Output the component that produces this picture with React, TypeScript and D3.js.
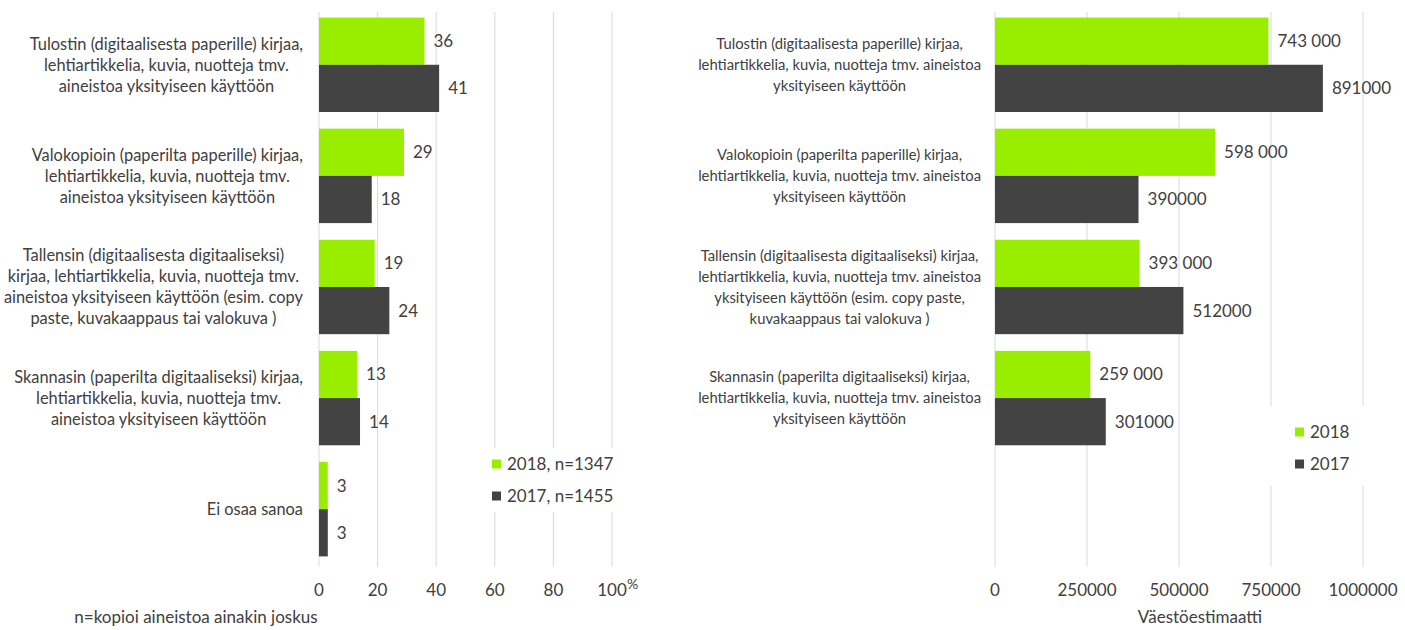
import React, { useRef, useEffect } from 'react';
import * as d3 from 'd3';

// left chart: share of respondents (%)
const leftCategories = [
  ['Tulostin (digitaalisesta paperille) kirjaa,', 'lehtiartikkelia, kuvia, nuotteja tmv.', 'aineistoa yksityiseen käyttöön'],
  ['Valokopioin (paperilta paperille) kirjaa,', 'lehtiartikkelia, kuvia, nuotteja tmv.', 'aineistoa yksityiseen käyttöön'],
  ['Tallensin (digitaalisesta digitaaliseksi)', 'kirjaa, lehtiartikkelia, kuvia, nuotteja tmv.', 'aineistoa yksityiseen käyttöön (esim. copy', 'paste, kuvakaappaus tai valokuva )'],
  ['Skannasin (paperilta digitaaliseksi) kirjaa,', 'lehtiartikkelia, kuvia, nuotteja tmv.', 'aineistoa yksityiseen käyttöön'],
  ['Ei osaa sanoa'],
];
const left2018 = [36, 29, 19, 13, 3];
const left2017 = [41, 18, 24, 14, 3];
const leftTicks = [0, 20, 40, 60, 80, 100];
const leftLegend = ['2018, n=1347', '2017, n=1455'];
const leftTitle = 'n=kopioi aineistoa ainakin joskus';

// right chart: population estimate
const rightCategories = [
  ['Tulostin (digitaalisesta paperille) kirjaa,', 'lehtiartikkelia, kuvia, nuotteja tmv. aineistoa', 'yksityiseen käyttöön'],
  ['Valokopioin (paperilta paperille) kirjaa,', 'lehtiartikkelia, kuvia, nuotteja tmv. aineistoa', 'yksityiseen käyttöön'],
  ['Tallensin (digitaalisesta digitaaliseksi) kirjaa,', 'lehtiartikkelia, kuvia, nuotteja tmv. aineistoa', 'yksityiseen käyttöön (esim. copy paste,', 'kuvakaappaus tai valokuva )'],
  ['Skannasin (paperilta digitaaliseksi) kirjaa,', 'lehtiartikkelia, kuvia, nuotteja tmv. aineistoa', 'yksityiseen käyttöön'],
];
const right2018 = [743000, 598000, 393000, 259000];
const right2017 = [891000, 390000, 512000, 301000];
const rightTicks = [0, 250000, 500000, 750000, 1000000];
const rightLegend = ['2018', '2017'];
const rightTitle = 'Väestöestimaatti';

const GREEN = '#99ee00';
const DARK = '#434343';
const TEXT = '#404040';
const GRID = '#d9d9d9';
const FONT = 'Lato, "Open Sans", sans-serif';

const fiFormat = d3.formatLocale({ decimal: ',', thousands: ' ', grouping: [3], currency: ['', ''] }).format(',d');
const plainFormat = d3.format('d');

const W = 1405;
const H = 630;

const App = () => {
  const svgRef = useRef(null);

  useEffect(() => {
    const svg = d3.select(svgRef.current);
    svg.selectAll('*').remove();
    svg.style('font-family', FONT);

    const top = 12;
    const gridBottom = 567;
    const step = 111.1;
    const pIn = 0.15;
    const pOut = 0.05;

    const drawPanel = (opts) => {
      const { cats, s18, s17, ticks, x0, x1, max, labelRight, labelSize, lineH, f18, f17, tickFmt } = opts;
      const g = svg.append('g');
      const x = d3.scaleLinear().domain([0, max]).range([x0, x1]);
      const len = step * (cats.length - pIn + 2 * pOut);
      const y = d3.scaleBand().domain(d3.range(cats.length)).range([top, top + len]).paddingInner(pIn).paddingOuter(pOut);
      const y2 = d3.scaleBand().domain(['2018', '2017']).range([0, y.bandwidth()]);

      g.selectAll('line.grid').data(ticks).join('line')
        .attr('class', 'grid')
        .attr('x1', (d) => x(d)).attr('x2', (d) => x(d))
        .attr('y1', top).attr('y2', gridBottom)
        .attr('stroke', GRID).attr('stroke-width', 1);

      g.selectAll('text.tick').data(ticks).join('text')
        .attr('class', 'tick')
        .attr('x', (d) => x(d)).attr('y', 596)
        .attr('text-anchor', 'middle')
        .attr('font-size', 17).attr('fill', TEXT)
        .text((d) => tickFmt(d));

      const series = [
        { key: '2018', vals: s18, color: GREEN, fmt: f18 },
        { key: '2017', vals: s17, color: DARK, fmt: f17 },
      ];
      series.forEach((s) => {
        g.selectAll(null).data(s.vals).join('rect')
          .attr('x', x0)
          .attr('y', (d, i) => y(i) + y2(s.key))
          .attr('width', (d) => x(d) - x0)
          .attr('height', y2.bandwidth())
          .attr('fill', s.color);
        g.selectAll(null).data(s.vals).join('text')
          .attr('x', (d) => x(d) + 9)
          .attr('y', (d, i) => y(i) + y2(s.key) + y2.bandwidth() / 2 + 6)
          .attr('font-size', 17).attr('fill', TEXT)
          .text((d) => s.fmt(d));
      });

      cats.forEach((lines, i) => {
        const cy = y(i) + y.bandwidth() / 2;
        const t = g.append('text').attr('font-size', labelSize).attr('fill', TEXT).attr('text-anchor', 'middle');
        const spans = lines.map((ln, j) => t.append('tspan')
          .attr('y', cy + (j - (lines.length - 1) / 2) * lineH + labelSize * 0.35)
          .text(ln));
        const maxW = d3.max(spans, (sp) => sp.node().getComputedTextLength());
        spans.forEach((sp) => sp.attr('x', labelRight - maxW / 2));
      });
      return g;
    };

    drawPanel({
      cats: leftCategories, s18: left2018, s17: left2017, ticks: leftTicks,
      x0: 319, x1: 612, max: 100, labelRight: 303, labelSize: 16.4, lineH: 21,
      f18: plainFormat, f17: plainFormat, tickFmt: plainFormat,
    });
    drawPanel({
      cats: rightCategories, s18: right2018, s17: right2017, ticks: rightTicks,
      x0: 995, x1: 1363, max: 1000000, labelRight: 981, labelSize: 14.8, lineH: 21,
      f18: fiFormat, f17: plainFormat, tickFmt: plainFormat,
    });

    svg.append('text').attr('x', 627).attr('y', 589)
      .attr('font-size', 14).attr('fill', TEXT).text('%');

    svg.append('text').attr('x', 196).attr('y', 623).attr('text-anchor', 'middle')
      .attr('font-size', 17).attr('fill', TEXT).text(leftTitle);
    svg.append('text').attr('x', 1200).attr('y', 623).attr('text-anchor', 'middle')
      .attr('font-size', 17).attr('fill', TEXT).text(rightTitle);

    const drawLegend = (items, bx, by, bw, bh, sx, sy) => {
      const lg = svg.append('g');
      lg.append('rect').attr('x', bx).attr('y', by).attr('width', bw).attr('height', bh).attr('fill', '#fff');
      items.forEach((label, i) => {
        const yy = sy + i * 32;
        lg.append('rect').attr('x', sx).attr('y', yy - 4.5).attr('width', 9).attr('height', 9)
          .attr('fill', i === 0 ? GREEN : DARK);
        lg.append('text').attr('x', sx + 15).attr('y', yy + 6)
          .attr('font-size', 17).attr('fill', TEXT).text(label);
      });
    };
    drawLegend(leftLegend, 486, 448, 134, 64, 492, 464);
    drawLegend(rightLegend, 1265, 406, 104, 80, 1295, 432);
  }, []);

  return (
    <svg ref={svgRef} width={W} height={H}
      style={{ position: 'absolute', left: 0, top: 0, display: 'block', background: '#fff' }} />
  );
};

export default App;
